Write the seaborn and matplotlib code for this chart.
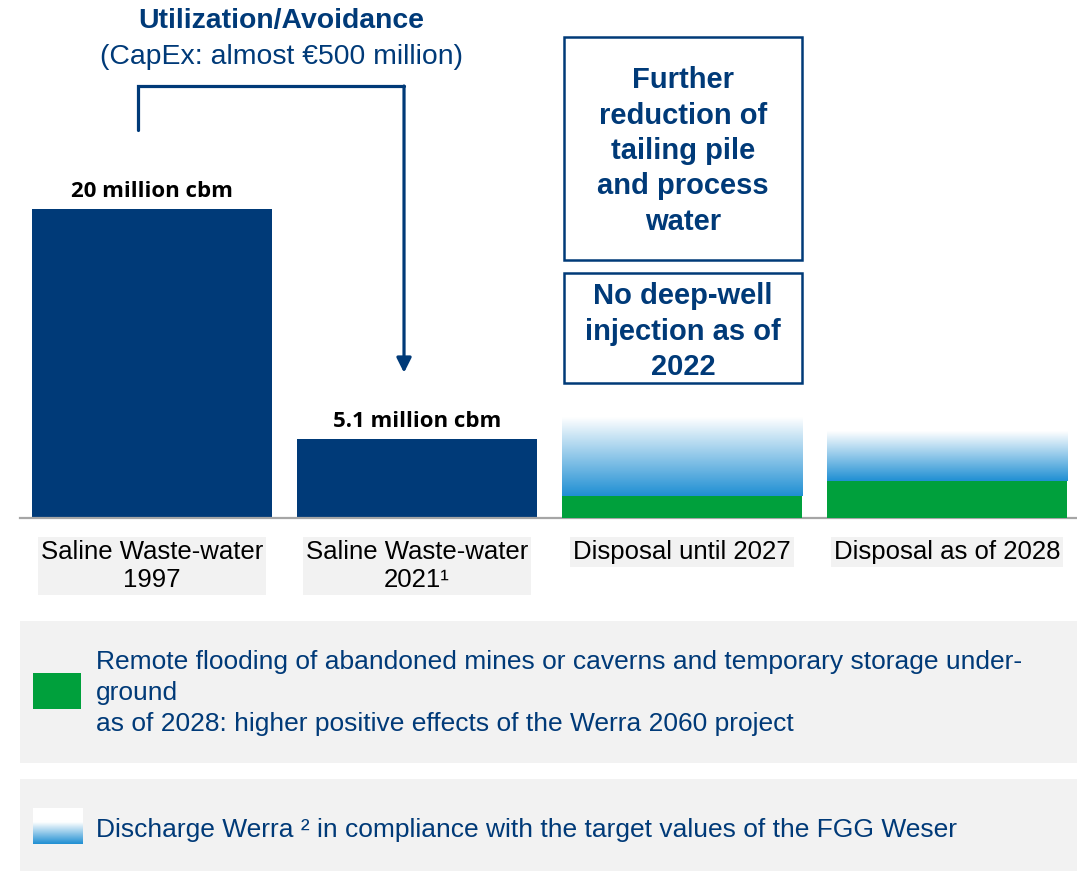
import numpy as np
import pandas as pd
import matplotlib
matplotlib.use("Agg")
import matplotlib.pyplot as plt
from matplotlib.colors import LinearSegmentedColormap
from matplotlib.patches import Rectangle
import seaborn as sns

# ---- data -------------------------------------------------------------
categories = [
    "Saline Waste-water\n1997",
    "Saline Waste-water\n2021\u00b9",
    "Disposal until 2027",
    "Disposal as of 2028",
]
wastewater = [20.0, 5.1]          # million cbm, first two categories
flooding = [1.4, 2.4]             # remote flooding / underground storage
discharge = [5.1, 3.2]            # discharge into the Werra

# ---- style ------------------------------------------------------------
sns.set_style("white")
plt.rcParams["font.family"] = ["Liberation Sans", "DejaVu Sans"]

NAVY = "#003A78"
GREEN = "#00A03C"
BLUE = "#1F8FD3"
PANEL = "#F2F2F2"
AXIS_GREY = "#A6A6A6"

W, H = 1077, 872


def fx(px):
    return px / W


def fy(py):
    return 1 - py / H


fig = plt.figure(figsize=(W / 100, H / 100), dpi=100)
ax = fig.add_axes([fx(19.5), fy(518), fx(1060), 518 / H])

bar_w = 0.906
ww_df = pd.DataFrame({"cat": categories[:2], "val": wastewater})
disp_df = pd.DataFrame({
    "cat": categories[2:],
    "flood": flooding,
    "total": [f + d for f, d in zip(flooding, discharge)],
})

# navy bars for the historic waste-water volumes
sns.barplot(data=ww_df, x="cat", y="val", order=categories, color=NAVY,
            saturation=1, width=bar_w, linewidth=0, ax=ax)
ww_bars = ax.containers[-1]

# full disposal stacks: filled afterwards with a vertical gradient
sns.barplot(data=disp_df, x="cat", y="total", order=categories, color="white",
            saturation=1, width=bar_w, linewidth=0, ax=ax)
total_bars = ax.containers[-1]

grad_cmap = LinearSegmentedColormap.from_list("werra", ["#FFFFFF", BLUE])
grad = np.linspace(1, 0, 256).reshape(-1, 1)
for patch, base in zip(total_bars.patches, flooding):
    x0 = patch.get_x()
    w = patch.get_width()
    top = patch.get_height()
    ax.imshow(grad, extent=[x0, x0 + w, base, top], origin="lower",
              aspect="auto", cmap=grad_cmap, zorder=2, interpolation="bicubic")

# green base of the disposal stacks
sns.barplot(data=disp_df, x="cat", y="flood", order=categories, color=GREEN,
            saturation=1, width=bar_w, linewidth=0, ax=ax)
for p in ax.containers[-1].patches:
    p.set_zorder(3)

ax.bar_label(ww_bars, labels=[f"{v:g} million cbm" for v in wastewater],
             padding=5, fontsize=16, fontweight="bold", color="black",
             family=["Open Sans", "DejaVu Sans"])

ax.set_xlim(-0.5, 3.5)
ax.set_ylim(0, 518 / 15.45)
ax.set_xlabel("")
ax.set_ylabel("")
ax.set_yticks([])
for side in ("left", "right", "top"):
    ax.spines[side].set_visible(False)
ax.spines["bottom"].set_color(AXIS_GREY)
ax.spines["bottom"].set_linewidth(1.6)

ax.set_xticks(range(len(categories)))
ax.set_xticklabels(categories)
ax.set_xticks([-0.5, 0.5, 1.5, 2.5], minor=True)
ax.tick_params(axis="x", which="major", length=0, pad=16, labelsize=18.5,
               labelcolor="black")
ax.tick_params(axis="x", which="minor", length=5, width=1.2, color=AXIS_GREY,
               direction="out")
for lbl in ax.get_xticklabels():
    lbl.set_bbox(dict(facecolor=PANEL, edgecolor="none", pad=2))

# bracket with arrow from the 1997 volume down to 2021
bx0, bx1 = -0.053, 0.951
ax.plot([bx0, bx0, bx1], [25.1, 27.96, 27.96], color=NAVY, lw=2.3,
        solid_joinstyle="miter", clip_on=False, zorder=4)
ax.annotate("", xy=(bx1, 9.4), xytext=(bx1, 27.96),
            arrowprops=dict(arrowstyle="-|>", color=NAVY, lw=2.3,
                            mutation_scale=22, shrinkA=0, shrinkB=0),
            annotation_clip=False, zorder=4)

fig.text(fx(281), fy(21), "Utilization/Avoidance", ha="center", va="center",
         fontsize=20.4, fontweight="bold", color=NAVY)
fig.text(fx(281), fy(57), "(CapEx: almost \u20ac500 million)", ha="center",
         va="center", fontsize=20.4, color=NAVY)

# framed call-outs above the disposal bars
for (y0, y1, txt, yc) in [
    (37, 260, "Further\nreduction of\ntailing pile\nand process\nwater", 151),
    (273, 383, "No deep-well\ninjection as of\n2022", 331.5),
]:
    fig.add_artist(Rectangle((fx(564), fy(y1)), fx(802 - 564), (y1 - y0) / H,
                             transform=fig.transFigure, fill=False,
                             edgecolor=NAVY, lw=1.8))
    fig.text(fx(683), fy(yc), txt, ha="center", va="center", fontsize=21,
             fontweight="bold", color=NAVY, linespacing=1.34)

# legend panels
fig.add_artist(Rectangle((fx(20), fy(763)), fx(W - 20), (763 - 621) / H,
                         transform=fig.transFigure, facecolor=PANEL,
                         edgecolor="none", zorder=0))
fig.add_artist(Rectangle((fx(20), fy(871)), fx(W - 20), (871 - 779) / H,
                         transform=fig.transFigure, facecolor=PANEL,
                         edgecolor="none", zorder=0))
fig.add_artist(Rectangle((fx(33), fy(709)), fx(48), 36 / H,
                         transform=fig.transFigure, facecolor=GREEN,
                         edgecolor="none", zorder=1))
fig.text(fx(96), fy(693),
         "Remote flooding of abandoned mines or caverns and temporary storage under-\n"
         "ground\nas of 2028: higher positive effects of the Werra 2060 project",
         ha="left", va="center", fontsize=19, color=NAVY, linespacing=1.39)

sw = fig.add_axes([fx(33), fy(844), fx(50), 36 / H])
sw_grad = np.concatenate([np.linspace(1, 0, 60), np.zeros(40)]).reshape(-1, 1)
sw.imshow(sw_grad, origin="lower", aspect="auto", cmap=grad_cmap,
          interpolation="bicubic")
sw.set_axis_off()
fig.text(fx(96), fy(830),
         "Discharge Werra \u00b2 in compliance with the target values of the FGG Weser",
         ha="left", va="center", fontsize=19, color=NAVY)

fig.savefig("out.png", dpi=100, facecolor="white")
